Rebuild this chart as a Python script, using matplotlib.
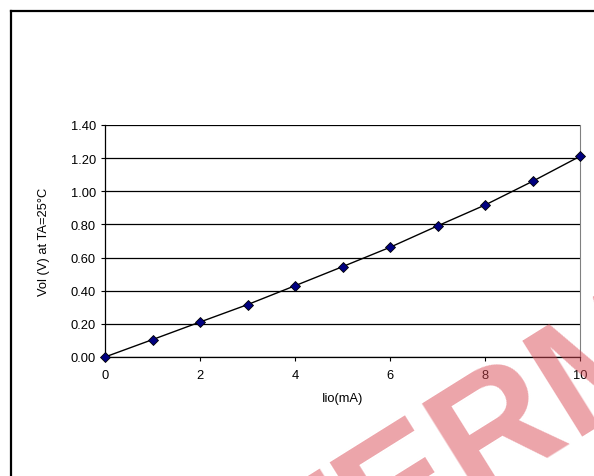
import matplotlib
matplotlib.use("Agg")
import matplotlib.pyplot as plt
from matplotlib.lines import Line2D

plt.rcParams['font.family'] = ['Liberation Sans', 'DejaVu Sans']

current_ma = [0, 1, 2, 3, 4, 5, 6, 7, 8, 9, 10]
vol_v = [0.0, 0.105, 0.211, 0.316, 0.430, 0.545, 0.662, 0.791, 0.917, 1.060, 1.211]
xticks = [0, 2, 4, 6, 8, 10]
yticks = [0.0, 0.2, 0.4, 0.6, 0.8, 1.0, 1.2, 1.4]

W, H = 594, 477
fig = plt.figure(figsize=(W / 100, H / 100), dpi=100)
ax = fig.add_axes([105 / W, 1 - 358 / H, 475 / W, 232 / H])

# outer chart frame (only top and left edges are in view)
fig.add_artist(Line2D([11 / W, 1.0], [1 - 12 / H, 1 - 12 / H], color="black", lw=1.6))
fig.add_artist(Line2D([11 / W, 11 / W], [0.0, 1 - 12 / H], color="black", lw=1.6))

for y in yticks:
    ax.axhline(y, color="black", lw=0.9, zorder=1)

ax.plot(current_ma, vol_v, color="black", lw=1.0, marker="D", markersize=4.8,
        markerfacecolor="#000080", markeredgecolor="black", markeredgewidth=0.6,
        zorder=3, clip_on=False)

ax.set_xlim(0, 10)
ax.set_ylim(0, 1.4)
ax.set_xticks(xticks)
ax.set_xticklabels([str(v) for v in xticks])
ax.set_yticks(yticks)
ax.set_yticklabels(["%.2f" % v for v in yticks])
ax.tick_params(direction="out", length=3, width=0.8, labelsize=9.3, color="black")
ax.tick_params(axis="x", pad=5.5)
ax.tick_params(axis="y", pad=3.5)

ax.spines["top"].set_visible(False)
ax.spines["right"].set_color("#808080")
ax.spines["left"].set_linewidth(0.9)
ax.spines["bottom"].set_linewidth(0.9)

ax.set_xlabel("Iio(mA)", fontsize=9.3, labelpad=8)
ax.set_ylabel("Vol (V) at TA=25°C", fontsize=9.3, labelpad=15)

# watermark
fig.text(295 / W, 1 - 615 / H, "TERM", fontsize=118, fontweight="bold",
         color="#d94a55", alpha=0.5, rotation=32, rotation_mode="anchor",
         ha="left", va="baseline", zorder=10)

fig.savefig("out.png", dpi=100)
